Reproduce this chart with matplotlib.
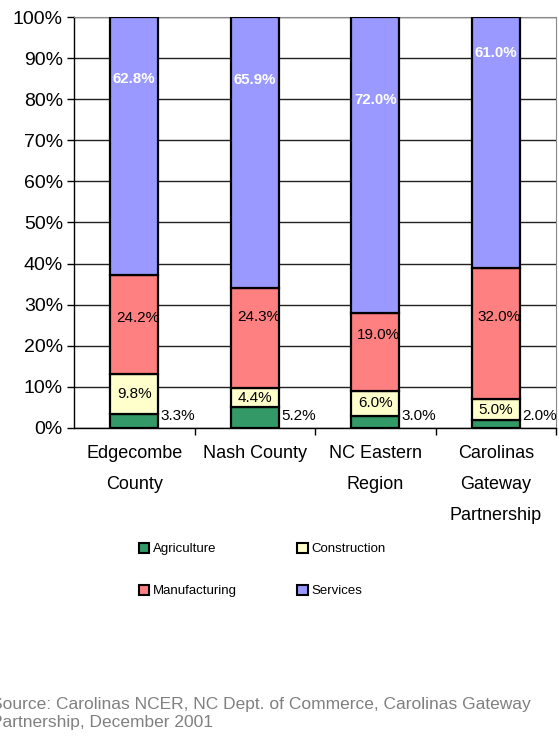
import matplotlib.pyplot as plt
import numpy as np
from matplotlib.patches import Patch

plt.rcParams['font.family'] = ['Liberation Sans', 'DejaVu Sans']

# data
categories = ['Edgecombe\nCounty', 'Nash County', 'NC Eastern\nRegion', 'Carolinas\nGateway\nPartnership']
agriculture = [3.3, 5.2, 3.0, 2.0]
construction = [9.8, 4.4, 6.0, 5.0]
manufacturing = [24.2, 24.3, 19.0, 32.0]
services = [62.8, 65.9, 72.0, 61.0]

colors = {'Agriculture': '#339966', 'Construction': '#FFFFCC',
          'Manufacturing': '#FF8080', 'Services': '#9999FF'}

# label heights as Excel put them (in %)
manu_label_y = [26.8, 27.0, 22.6, 27.0]
serv_label_y = [85.0, 84.7, 79.8, 91.2]

series = [('Agriculture', agriculture), ('Construction', construction),
          ('Manufacturing', manufacturing), ('Services', services)]
tot = np.sum([s for _, s in series], axis=0)

fig = plt.figure(figsize=(5.59, 7.36), dpi=100)
ax = fig.add_axes([74 / 559, 1 - 428 / 736, 482 / 559, 411 / 736])

x = np.arange(len(categories))
bottom = np.zeros(len(categories))
for name, vals in series:
    h = np.array(vals) / tot * 100
    ax.bar(x, h, 0.4, bottom=bottom, color=colors[name], edgecolor='black',
           linewidth=1.6, zorder=3)
    bottom += h

# data labels
cons_bottom = np.array(agriculture) / tot * 100
for i in range(len(x)):
    ax.text(x[i] + 0.22, 3.0, f'{agriculture[i]:.1f}%', ha='left', va='center',
            fontsize=11, zorder=4)
    cb = cons_bottom[i]
    ch = construction[i] / tot[i] * 100
    ax.text(x[i], cb + ch / 2, f'{construction[i]:.1f}%', ha='center', va='center',
            fontsize=11, zorder=4)
    ax.text(x[i] + 0.03, manu_label_y[i], f'{manufacturing[i]:.1f}%', ha='center',
            va='center', fontsize=11, zorder=4)
    ax.text(x[i], serv_label_y[i], f'{services[i]:.1f}%', ha='center', va='center',
            fontsize=10.8, color='white', fontweight='bold', zorder=4)

ax.set_xlim(-0.5, len(categories) - 0.5)
ax.set_ylim(0, 100)
ax.set_yticks(np.arange(0, 101, 10))
ax.set_yticklabels([f'{v}%' for v in range(0, 101, 10)], fontsize=14)
ax.yaxis.grid(True, color='#222222', linewidth=1.0, zorder=0)
ax.tick_params(axis='y', length=5, width=1, pad=3)

ax.set_xticks(x)
ax.set_xticklabels(categories, fontsize=13, linespacing=2.1, va='top')
ax.set_xticks(np.arange(0.5, len(categories), 1), minor=True)
ax.tick_params(axis='x', which='major', length=0, pad=12)
ax.tick_params(axis='x', which='minor', length=5, width=1)

for s in ['top', 'right']:
    ax.spines[s].set_color('#888888')
for s in ['left', 'bottom']:
    ax.spines[s].set_color('black')
    ax.spines[s].set_linewidth(1.0)

handles = [Patch(facecolor=colors[n], edgecolor='black', linewidth=1.5, label=n)
           for n in ['Agriculture', 'Manufacturing', 'Construction', 'Services']]
fig.legend(handles=handles, ncol=2, frameon=False, fontsize=9.5,
           loc='center', bbox_to_anchor=(262 / 559, 1 - 570 / 736),
           handlelength=0.8, handleheight=0.8, handletextpad=0.25,
           labelspacing=2.2, columnspacing=4.6)

fig.text(-0.016, 1 - 705 / 736, 'Source: Carolinas NCER, NC Dept. of Commerce, Carolinas Gateway',
         fontsize=12.5, color='#808080', va='center', ha='left')
fig.text(-0.016, 1 - 723 / 736, 'Partnership, December 2001',
         fontsize=12.5, color='#808080', va='center', ha='left')

fig.savefig('out.png', dpi=100)
